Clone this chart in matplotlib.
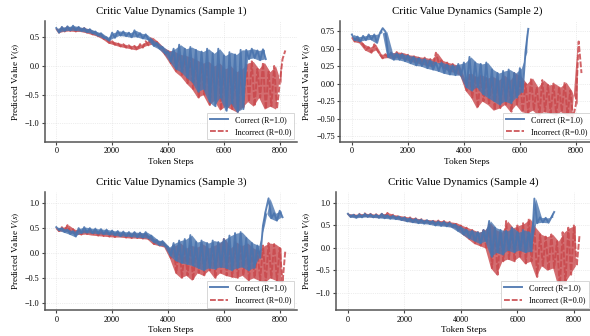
import numpy as np
import matplotlib
matplotlib.use("Agg")
import matplotlib.pyplot as plt
from matplotlib.ticker import MultipleLocator

plt.rcParams['font.family'] = ['Liberation Serif', 'DejaVu Serif']
plt.rcParams['mathtext.fontset'] = 'stix'

STEP = 100  # token spacing between consecutive readings

# readings taken alternately at the top (even steps) and bottom (odd steps) of each noisy band
s1_correct_top = [.66, .68, .69, .70, .68, .66, .64, .60, .57, .50, .58, .61, .60, .58, .62, .57, .55, .46, .40, .33,
                  .25, .30, .37, .30, .33, .28, .25, .30, .22, .30, .18, .24, .20, .28, .28, .30, .27, .29]
s1_correct_bot = [.58, .61, .62, .62, .61, .59, .57, .53, .49, .44, .49, .53, .52, .50, .51, .48, .46, .35, .30, .22,
                  .08, -.05, -.10, -.20, -.28, -.45, -.40, -.62, -.70, -.55, -.78, -.65, -.80, -.75, .12, .14, .10, .12]
s1_incorrect_top = [.65, .67, .68, .68, .67, .66, .63, .59, .55, .47, .43, .40, .38, .36, .35, .38, .43, .50, .42, .32,
                    .27, .25, .20, .18, .15, .10, .05, .08, .00, .05, -.05, .00, -.10, -.05, .05, .08, -.05, .06, -.10, .00,
                    -.30, .27]
s1_incorrect_bot = [.58, .60, .61, .60, .60, .58, .55, .52, .47, .40, .37, .34, .32, .30, .28, .32, .36, .38, .32, .20,
                    .05, -.10, -.18, -.30, -.40, -.55, -.50, -.68, -.60, -.77, -.70, -.75, -.80, -.72, -.62, -.70, -.55, -.75, -.70, -.75,
                    .12]

s2_correct_top = [.70, .67, .68, .70, .70, .72, .74, .44, .43, .42, .40, .38, .36, .35, .33, .30,
                  .30, .27, .26, .28, .30, .38, .30, .28, .30, .20, .15, .18, .20, .15, .22, .45]
s2_correct_bot = [.62, .60, .62, .63, .58, .79, .38, .34, .34, .32, .29, .26, .25, .22, .20, .18,
                  .15, .13, .12, .12, -.05, -.10, -.05, -.15, -.20, -.25, -.30, -.25, -.28, -.20, -.12, .78]
s2_incorrect_top = [.66, .64, .56, .52, .56, .42, .42, .44, .45, .44, .41, .40, .38, .37, .35, .44, .33, .30, .28, .25,
                    .05, .15, .10, .12, .08, .10, .05, .12, .05, .15, .10, .00, .08, -.05, .05, -.02, .00, -.05, .02, -.10,
                    -.30, .15]
s2_incorrect_bot = [.60, .58, .48, .44, .48, .36, .37, .36, .37, .35, .32, .30, .28, .26, .24, .30, .22, .18, .16, .12,
                    -.10, -.20, -.35, -.25, -.30, -.38, -.35, -.30, -.40, -.30, -.40, -.42, -.38, -.45, -.40, -.42, -.45, -.40, -.45, -.48,
                    .60]

s3_correct_top = [.52, .50, .47, .44, .50, .52, .50, .49, .48, .47, .45, .44, .43, .42, .42, .41, .42, .35, .26, .24,
                  .12, .20, .25, .28, .36, .22, .25, .20, .25, .22, .28, .35, .40, .42, .30, .20, .15, .55, 1.10, .80, .85]
s3_correct_bot = [.46, .42, .38, .33, .40, .41, .40, .39, .38, .37, .36, .34, .34, .33, .32, .31, .30, .22, .16, .14,
                  -.05, -.15, -.20, -.22, -.25, -.30, -.35, -.30, -.32, -.28, -.30, -.35, -.30, -.28, -.35, -.30, -.10, .85, .70, .65, .72]
s3_incorrect_top = [.50, .52, .56, .48, .46, .47, .46, .45, .44, .43, .42, .41, .40, .40, .40, .40, .38, .30, .25, .22,
                    .10, .15, .20, .10, .15, .12, .18, .10, .15, .20, .28, .10, .22, .15, .20, .10, .05, .15, .20, .18,
                    .10, .05]
s3_incorrect_bot = [.44, .44, .42, .38, .37, .38, .36, .35, .34, .33, .32, .32, .31, .30, .30, .29, .28, .18, .15, .12,
                    -.10, -.40, -.50, -.45, -.55, -.40, -.45, -.35, -.50, -.40, -.45, -.48, -.50, -.45, -.55, -.50, -.55, -.60, -.50, -.55,
                    -.60]

s4_correct_top = [.76, .74, .75, .76, .75, .74, .76, .73, .72, .70, .68, .66, .65, .63, .62, .60, .59, .58, .56, .52,
                  .46, .40, .38, .35, .40, .60, .45, .40, .38, .45, .35, .40, .35, 1.10, .68, .67, .68]
s4_correct_bot = [.69, .67, .68, .69, .68, .67, .66, .65, .64, .62, .59, .57, .55, .54, .53, .50, .49, .48, .46, .38,
                  .30, .22, .16, .10, .15, -.20, -.10, -.15, -.05, -.10, -.05, -.10, -.08, .55, .57, .56, .80]
s4_incorrect_top = [.76, .75, .76, .77, .76, .75, .76, .78, .74, .72, .70, .68, .66, .64, .63, .62, .61, .60, .58, .56,
                    .50, .45, .40, .35, .40, .55, .40, .35, .60, .45, .50, .55, .65, .45, .30, .25, .30, .15, .35, .45,
                    .50, .30]
s4_incorrect_bot = [.70, .69, .70, .70, .69, .68, .68, .68, .66, .63, .60, .58, .57, .56, .55, .53, .52, .50, .48, .42,
                    .30, .20, .10, .05, .00, -.45, -.60, -.30, -.25, -.30, -.20, -.35, -.30, -.65, -.40, -.50, -.45, -.90, -.80, -.60,
                    -.40]

titles = ['Critic Value Dynamics (Sample 1)', 'Critic Value Dynamics (Sample 2)',
          'Critic Value Dynamics (Sample 3)', 'Critic Value Dynamics (Sample 4)']
correct_runs = [(s1_correct_top, s1_correct_bot), (s2_correct_top, s2_correct_bot),
                (s3_correct_top, s3_correct_bot), (s4_correct_top, s4_correct_bot)]
incorrect_runs = [(s1_incorrect_top, s1_incorrect_bot), (s2_incorrect_top, s2_incorrect_bot),
                  (s3_incorrect_top, s3_incorrect_bot), (s4_incorrect_top, s4_incorrect_bot)]
y_limits = [(-1.32, 0.78), (-0.83, 0.89), (-1.15, 1.23), (-1.39, 1.25)]
y_steps = [0.5, 0.25, 0.5, 0.5]

# axes boxes [left, bottom, width, height] in figure fractions
boxes = [[0.076, 0.578, 0.427, 0.359], [0.577, 0.578, 0.428, 0.359],
         [0.076, 0.077, 0.427, 0.352], [0.570, 0.077, 0.432, 0.352]]

BLUE = '#4A74AE'
RED = '#C9484C'


def weave(top, bot):
    vals = np.empty(len(top) + len(bot))
    vals[0::2] = top
    vals[1::2] = bot
    return np.arange(len(vals)) * STEP, vals


def band(ax, top, bot, color, z):
    # shade between the top/bottom readings so the noisy trace reads as dense
    n = min(len(top), len(bot))
    xf = np.arange(n) * 2 * STEP + STEP / 2
    ax.fill_between(xf, top[:n], bot[:n], color=color, alpha=0.8, lw=0, zorder=z)


fig = plt.figure(figsize=(5.9, 3.36), dpi=100)

for i in range(4):
    ax = fig.add_axes(boxes[i])
    xc, yc = weave(*correct_runs[i])
    xi, yi = weave(*incorrect_runs[i])
    ax.plot(xc, yc, color=BLUE, lw=1.4, alpha=0.9, label='Correct (R=1.0)', zorder=3)
    ax.plot(xi, yi, color=RED, lw=1.4, ls='--', dashes=(3, 1), alpha=0.85, label='Incorrect (R=0.0)', zorder=2)
    band(ax, *incorrect_runs[i], RED, 1.5)
    band(ax, *correct_runs[i], BLUE, 2.5)

    ax.set_title(titles[i], fontsize=7.8, pad=5)
    ax.set_xlabel('Token Steps', fontsize=6.7, labelpad=2)
    ax.set_ylabel('Predicted Value $V(s)$', fontsize=6.7, labelpad=2)
    ax.set_ylim(*y_limits[i])
    ax.yaxis.set_major_locator(MultipleLocator(y_steps[i]))
    ax.xaxis.set_major_locator(MultipleLocator(2000))
    ax.tick_params(labelsize=5.9, length=2.5, width=0.8, color='#444444', pad=1.5)
    ax.grid(True, ls=':', lw=0.5, color='#dddddd')
    ax.set_axisbelow(True)
    for side in ['top', 'right']:
        ax.spines[side].set_visible(False)
    for side in ['left', 'bottom']:
        ax.spines[side].set_color('#555555')
        ax.spines[side].set_linewidth(1.1)
    leg = ax.legend(loc='lower right', fontsize=5.9, frameon=True, fancybox=False,
                    borderpad=0.4, handlelength=2.2, labelspacing=0.5, borderaxespad=0.3)
    leg.set_zorder(5)
    leg.get_frame().set_edgecolor('#cccccc')
    leg.get_frame().set_linewidth(0.6)
    leg.get_frame().set_alpha(0.9)

plt.savefig('out.png', dpi=100)
